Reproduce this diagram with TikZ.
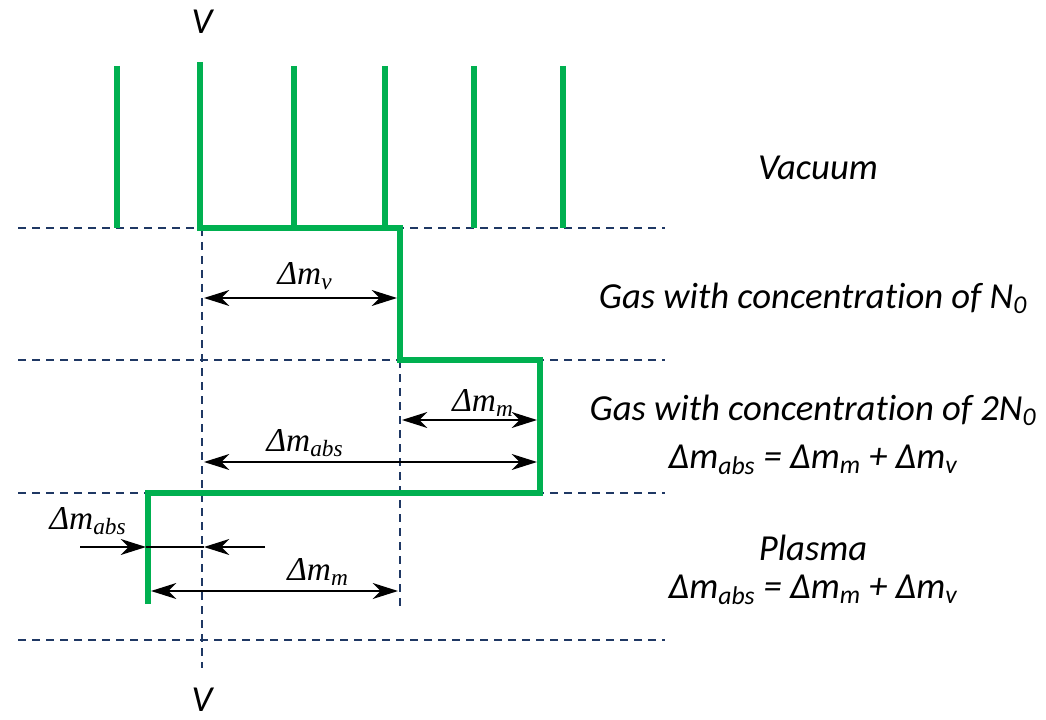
\documentclass[tikz,border=0pt]{standalone}
\usepackage{fontspec}
\setmainfont{Carlito}[Ligatures=NoCommon]
\newfontfamily\timesfont{Liberation Serif}
\usetikzlibrary{arrows.meta}
\definecolor{stepG}{HTML}{00B050}
\definecolor{levelC}{HTML}{1F3864}

\begin{document}
\begin{tikzpicture}[x=0.75pt,y=-0.75pt,
  level/.style={levelC,line width=1.2pt,dash pattern=on 6pt off 4.5pt},
  front/.style={stepG,line width=5.2pt},
  spike/.style={stepG,line width=4.5pt},
  dim/.style={black,line width=1pt,{Stealth[length=19pt,width=12pt,inset=6pt]}-{Stealth[length=19pt,width=12pt,inset=6pt]}},
  dimin/.style={black,line width=1pt,-{Stealth[length=19pt,width=12pt,inset=6pt]}},
  dmlab/.style={font=\timesfont\itshape\fontsize{25}{28}\selectfont},
  region/.style={font=\itshape\fontsize{27.5}{32}\selectfont}]
  \useasboundingbox (0,0) rectangle (1046,720);

  % level boundaries
  \coordinate (l1L) at (18,228);  \coordinate (l1R) at (665,228);
  \coordinate (l2L) at (18,360);  \coordinate (l2R) at (665,360);
  \coordinate (l3L) at (18,493);  \coordinate (l3R) at (665,493);
  \coordinate (l4L) at (18,640);  \coordinate (l4R) at (665,640);
  \foreach \i in {1,...,4}
    \draw[level] (l\i L) -- (l\i R);

  % vertical guides
  \coordinate (vTop) at (202,228); \coordinate (vBot) at (202,668);
  \coordinate (mTop) at (400,360); \coordinate (mBot) at (400,612);
  \draw[level] (vTop) -- (vBot);
  \draw[level] (mTop) -- (mBot);

  % spikes in vacuum
  \foreach \x in {117,294,385,474,563}
    \draw[spike] (\x,66) -- (\x,228);

  % front line
  \coordinate (f0) at (200,62);
  \coordinate (f1) at (200,228);
  \coordinate (f2) at (400,228);
  \coordinate (f3) at (400,360);
  \coordinate (f4) at (540,360);
  \coordinate (f5) at (540,493);
  \coordinate (f6) at (148,493);
  \coordinate (f7) at (148,604);
  \draw[front,line join=miter] (f0) -- (f1) -- (f2) -- (f3) -- (f4) -- (f5) -- (f6) -- (f7);

  % V labels
  \node[region] (vTopLab) at (202,22) {V};
  \node[region] (vBotLab) at (202,700) {V};

  % dimension arrows
  \coordinate (dv1) at (204,298);  \coordinate (dv2) at (397,298);
  \draw[dim] (dv1) -- (dv2);
  \node[dmlab] (dvLab) at (305,276) {Δm\textsubscript{v}};

  \coordinate (dm1) at (402,420);  \coordinate (dm2) at (537,420);
  \draw[dim] (dm1) -- (dm2);
  \node[dmlab] (dmLab) at (483,403) {Δm\textsubscript{m}};

  \coordinate (da1) at (204,462);  \coordinate (da2) at (537,462);
  \draw[dim] (da1) -- (da2);
  \node[dmlab] (daLab) at (305,443) {Δm\textsubscript{abs}};

  \coordinate (pa0) at (80,547);   \coordinate (pa1) at (146,547);
  \coordinate (pa2) at (204,547);  \coordinate (pa3) at (265,547);
  \draw[dimin] (pa0) -- (pa1);
  \draw[black,line width=1pt] (pa1) -- (pa2);
  \draw[dimin] (pa3) -- (pa2);
  \node[dmlab] (paLab) at (88,521) {Δm\textsubscript{abs}};

  \coordinate (pm1) at (151,591);  \coordinate (pm2) at (398,591);
  \draw[dim] (pm1) -- (pm2);
  \node[dmlab] (pmLab) at (318,572) {Δm\textsubscript{m}};

  % regions
  \node[region] (vac) at (818,168) {Vacuum};
  \node[region] (gas1) at (813,298) {Gas with concentration of N\textsubscript{0}};
  \node[region] (gas2) at (813,410) {Gas with concentration of 2N\textsubscript{0}};
  \node[region] (gas2eq) at (813,460) {Δm\textsubscript{abs} = Δm\textsubscript{m} + Δm\textsubscript{v}};
  \node[region] (pla) at (813,548) {Plasma};
  \node[region] (plaeq) at (813,590) {Δm\textsubscript{abs} = Δm\textsubscript{m} + Δm\textsubscript{v}};
\end{tikzpicture}
\end{document}
